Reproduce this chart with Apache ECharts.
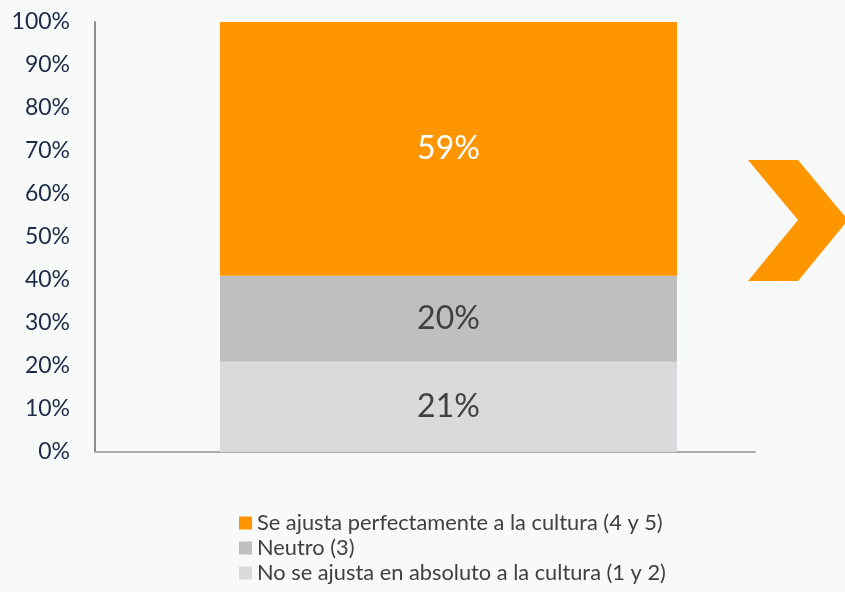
<!DOCTYPE html>
<html><head><meta charset="utf-8">
<script src="https://cdn.jsdelivr.net/npm/echarts@6/dist/echarts.min.js"></script>
<style>html,body{margin:0;padding:0;background:#F8F9F9;}#c{width:845px;height:592px;}</style>
</head><body><div id="c"></div>
<script>
const categories = ['Total'];
const seriesNames = ['No se ajusta en absoluto a la cultura (1 y 2)', 'Neutro (3)', 'Se ajusta perfectamente a la cultura (4 y 5)'];
const valuesLow = [21];
const valuesNeutral = [20];
const valuesHigh = [59];
const yTicks = [0, 10, 20, 30, 40, 50, 60, 70, 80, 90, 100];

const chart = echarts.init(document.getElementById('c'));
const font = 'Lato, "Open Sans", sans-serif';
const mk = (name, data, color, labelColor) => ({
  name, type: 'bar', stack: 'total', xAxisIndex: 1, yAxisIndex: 1,
  data, barWidth: '100%', itemStyle: {color},
  label: {show: true, position: 'inside', formatter: p => p.value + '%', color: labelColor, fontSize: 32, fontFamily: font},
  emphasis: {disabled: true}
});
chart.setOption({
  backgroundColor: '#F8F9F9',
  animation: false,
  grid: [
    {left: 95, right: 90, top: 22, bottom: 140},
    {left: 220, right: 168, top: 22, bottom: 140}
  ],
  xAxis: [
    {type: 'category', gridIndex: 0, data: [''], axisLine: {lineStyle: {color: '#ABABAB', width: 2}}, axisTick: {show: false}, axisLabel: {show: false}},
    {type: 'category', gridIndex: 1, data: categories, show: false}
  ],
  yAxis: [
    {type: 'value', gridIndex: 0, min: 0, max: 100, interval: 10,
      axisLine: {show: true, lineStyle: {color: '#8C8C8C', width: 2}}, axisTick: {show: false}, splitLine: {show: false},
      axisLabel: {formatter: v => yTicks.includes(v) ? v + '%' : '', color: '#1B2B48', fontSize: 23, fontFamily: font, margin: 25}},
    {type: 'value', gridIndex: 1, min: 0, max: 100, show: false}
  ],
  legend: {
    orient: 'vertical', left: 239, top: 512, height: 80, padding: 0, itemWidth: 13, itemHeight: 13, itemGap: 3,
    icon: 'rect', textStyle: {color: '#404040', fontSize: 21.8, lineHeight: 22, fontFamily: font},
    data: [seriesNames[2], seriesNames[1], seriesNames[0]]
  },
  series: [
    mk(seriesNames[0], valuesLow, '#D9DADC', '#404040'),
    mk(seriesNames[1], valuesNeutral, '#BFBFBF', '#404040'),
    mk(seriesNames[2], valuesHigh, '#FF9600', '#FFFFFF')
  ],
  graphic: [{
    type: 'polygon', shape: {points: [[748,160],[798,160],[848,220],[798,281],[748,281],[798,220]]},
    style: {fill: '#FF9600'}
  }]
});
</script></body></html>
